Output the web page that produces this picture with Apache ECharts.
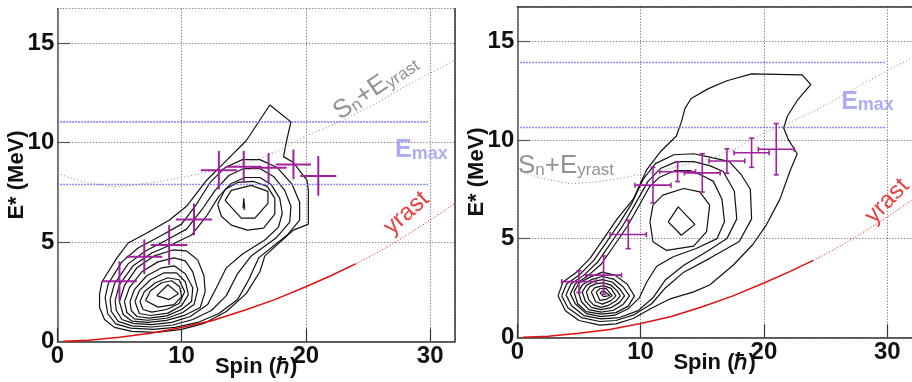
<!DOCTYPE html>
<html>
<head>
<meta charset="utf-8">
<script src="https://cdn.jsdelivr.net/npm/echarts@6/dist/echarts.min.js"></script>
<style>
    html, body {margin: 0; padding: 0; background: #fff;}
    #chart {width: 912px; height: 382px;}
</style>
</head>
<body>
<div id="chart"></div>
<script>
// values (spin in hbar, E* in MeV)

const crossSpin = [5, 7, 9, 11, 13, 15, 17, 19, 21];
const crossSpinErr = [1.4, 1.45, 1.47, 1.46, 1.46, 1.45, 1.45, 1.42, 1.45];
const leftCrossE = [3.03, 4.26, 4.85, 6.14, 8.62, 8.79, 8.74, 8.91, 8.33];
const leftCrossErr = [1.0, 0.87, 1.0, 0.8, 0.97, 0.8, 0.74, 0.75, 1.0];
const rightCrossE = [2.82, 3.15, 5.21, 7.71, 8.39, 8.33, 8.93, 9.35, 9.53];
const rightCrossErr = [0.55, 0.97, 0.72, 0.9, 0.5, 0.97, 0.62, 0.74, 1.3];

const yrastSpin = [0.5, 2.5, 5, 7.5, 10, 12.5, 15, 17.5, 20, 22, 24];
const yrastE = [0, 0.05, 0.2, 0.4, 0.7, 1.05, 1.55, 2.1, 2.75, 3.3, 3.9];
const yrastExtSpin = [24, 26, 28, 30, 32];
const yrastExtE = [3.9, 4.55, 5.3, 6.1, 6.95];

const snSpin = [0, 2, 4.3, 6, 8, 10, 12, 14, 16, 18, 20, 22, 24, 26, 28, 30, 32];
const snE = [8.45, 8.05, 7.78, 7.85, 8.02, 8.25, 8.5, 8.8, 9.12, 9.65, 10.35, 10.85, 11.45, 12.1, 12.85, 13.5, 14.16];

const emaxSpan = [0, 29.8];
const leftEmax = [11.05, 7.9];
const rightEmax = [13.92, 10.63];

// contour levels, outermost first, each a closed polygon [spin, E]
const leftContours = [
    [[3.4,2.4],[3.6,3.0],[4.8,4.2],[5.7,4.95],[7.2,5.45],[9.0,6.1],[10.4,6.8],[12.0,8.1],[13.6,9.1],[15.2,10.1],[17.1,11.9],[18.8,11.05],[18.45,10.1],[18.2,9.3],[19.0,9.0],[20.1,8.1],[20.2,7.6],[20.2,5.9],[19.0,5.6],[16.7,4.3],[16.3,3.5],[15.2,2.4],[13.6,1.5],[11.8,0.9],[10.0,0.6],[8.0,0.45],[6.0,0.5],[4.6,0.7],[3.8,1.1],[3.4,1.7],[3.4,2.4]],
    [[3.85,2.2],[4.1,2.9],[5.2,4.0],[6.5,4.7],[8.3,5.3],[10.0,5.9],[11.2,6.9],[12.3,8.0],[13.5,8.75],[14.9,9.15],[16.3,9.15],[17.7,8.75],[18.9,7.9],[19.5,7.0],[19.5,6.1],[18.5,5.35],[16.2,4.2],[15.4,3.1],[14.5,2.1],[13.0,1.4],[11.3,0.95],[9.5,0.7],[7.7,0.6],[5.9,0.66],[4.7,0.88],[4.05,1.4],[3.85,2.2]],
    [[4.25,2.1],[4.6,2.9],[5.7,3.9],[7.1,4.55],[8.8,5.1],[10.4,5.65],[11.6,6.6],[12.7,7.6],[13.8,8.35],[15.0,8.7],[16.3,8.7],[17.4,8.3],[18.3,7.6],[18.8,6.8],[18.7,6.0],[17.6,5.2],[15.6,4.3],[14.5,3.4],[13.6,2.3],[12.4,1.55],[10.9,1.1],[9.3,0.82],[7.6,0.72],[6.0,0.78],[4.9,1.0],[4.35,1.5],[4.25,2.1]],
    [[4.65,2.05],[5.0,2.85],[6.1,3.8],[7.6,4.45],[9.3,4.9],[10.8,5.35],[12.0,6.3],[13.0,7.3],[14.0,7.95],[15.1,8.25],[16.3,8.25],[17.2,7.9],[17.9,7.2],[18.1,6.45],[17.8,5.75],[16.7,5.1],[14.9,4.4],[13.6,3.7],[12.8,2.7],[12.1,1.85],[10.7,1.25],[9.2,0.95],[7.6,0.84],[6.1,0.9],[5.2,1.1],[4.75,1.55],[4.65,2.05]],
    // upper lobe
    [[12.9,6.9],[13.5,7.65],[14.5,8.0],[15.8,8.05],[16.9,7.8],[17.5,7.2],[17.5,6.4],[16.6,5.7],[15.3,5.6],[14.0,5.85],[13.2,6.3],[12.9,6.9]],
    [[13.5,7.1],[14.0,7.6],[15.6,7.85],[16.95,7.55],[16.95,6.95],[15.9,6.2],[14.8,6.2],[13.5,7.1]],
    [[14.95,6.7],[15.0,7.2],[15.08,6.7],[15.0,6.62],[14.95,6.7]],
    // lower lobe
    [[5.0,2.0],[5.4,2.8],[6.4,3.7],[7.8,4.3],[9.3,4.6],[10.4,4.55],[11.3,4.1],[11.8,3.3],[11.9,2.5],[11.5,1.7],[10.3,1.32],[8.8,1.05],[7.3,0.95],[6.0,1.02],[5.3,1.35],[5.0,2.0]],
    [[5.4,2.0],[5.8,2.7],[6.8,3.5],[8.1,4.0],[9.4,4.2],[10.3,4.05],[10.9,3.5],[11.3,2.6],[11.0,1.85],[10.1,1.45],[8.8,1.16],[7.3,1.06],[6.2,1.13],[5.6,1.45],[5.4,2.0]],
    [[5.85,2.0],[6.2,2.6],[7.2,3.3],[8.4,3.7],[9.4,3.8],[10.3,3.4],[10.9,2.7],[10.8,2.0],[10.0,1.6],[8.8,1.28],[7.4,1.17],[6.4,1.25],[5.95,1.55],[5.85,2.0]],
    [[6.25,2.0],[6.6,2.55],[7.5,3.1],[8.6,3.45],[9.6,3.45],[10.3,3.0],[10.55,2.35],[10.0,1.8],[8.9,1.42],[7.5,1.3],[6.6,1.4],[6.25,2.0]],
    [[6.65,2.0],[7.0,2.5],[7.9,2.95],[8.9,3.2],[9.8,3.1],[10.25,2.5],[9.8,1.9],[8.8,1.6],[7.6,1.47],[6.9,1.6],[6.65,2.0]],
    [[7.1,2.05],[7.5,2.55],[8.4,2.95],[9.2,3.05],[9.85,2.75],[10.0,2.25],[9.4,1.85],[8.1,1.72],[7.1,2.05]],
    [[8.0,2.3],[8.9,2.85],[9.75,2.4],[9.0,2.1],[8.0,2.3]]
];

const rightContours = [
    [[3.3,2.1],[3.7,2.8],[4.8,3.3],[5.9,4.0],[7.0,5.0],[8.1,6.0],[9.4,7.0],[10.5,8.5],[11.6,9.4],[12.9,10.2],[13.3,10.9],[13.6,11.6],[14.1,12.1],[15.5,12.6],[17.0,13.0],[19.0,13.35],[23.1,13.3],[23.8,12.8],[22.7,12.0],[21.9,11.2],[21.6,10.6],[22.0,10.0],[22.7,9.3],[22.1,8.4],[21.3,7.0],[20.2,5.7],[19.1,4.7],[17.5,3.65],[15.6,2.65],[14.3,2.3],[12.4,1.95],[10.8,1.45],[9.4,0.95],[8.0,0.68],[6.7,0.62],[5.0,0.85],[3.9,1.35],[3.3,2.1]],
    [[3.6,2.1],[4.0,2.7],[5.1,3.2],[6.2,3.9],[7.2,4.8],[8.3,5.8],[9.3,6.8],[10.2,8.0],[11.2,8.8],[12.7,9.25],[14.3,9.3],[15.8,9.1],[17.2,8.9],[18.2,8.2],[18.9,7.5],[19.0,6.0],[18.0,4.85],[15.6,4.0],[13.5,3.3],[12.0,2.5],[10.9,1.7],[9.5,1.15],[8.0,0.85],[6.7,0.8],[5.2,1.0],[4.1,1.5],[3.6,2.1]],
    [[3.95,2.15],[4.35,2.7],[5.4,3.15],[6.5,3.8],[7.5,4.7],[8.6,5.7],[9.6,6.8],[10.6,7.9],[11.6,8.55],[12.9,8.9],[14.3,8.9],[15.6,8.7],[16.7,8.4],[17.6,7.4],[17.8,6.0],[17.0,5.0],[15.35,4.33],[13.5,3.65],[12.0,2.9],[11.0,2.0],[9.8,1.35],[8.3,1.0],[6.8,0.93],[5.4,1.1],[4.4,1.6],[3.95,2.15]],
    [[4.3,2.2],[4.7,2.7],[5.7,3.1],[6.8,3.7],[7.8,4.6],[8.9,5.6],[9.9,6.7],[10.7,7.6],[11.5,8.1],[12.8,8.45],[14.0,8.45],[15.0,8.2],[15.9,7.9],[16.6,7.0],[16.8,5.85],[16.2,5.0],[14.5,4.5],[12.65,4.08],[11.3,3.6],[10.5,2.8],[9.9,2.0],[9.0,1.45],[7.9,1.12],[6.8,1.05],[5.6,1.2],[4.7,1.7],[4.3,2.2]],
    // upper lobe
    [[10.76,5.85],[11.0,4.84],[12.1,4.4],[14.3,4.62],[15.35,5.35],[15.6,6.7],[14.8,7.37],[13.5,7.54],[11.8,7.2],[11.0,6.7],[10.76,5.85]],
    [[12.24,5.85],[13.05,6.61],[14.4,5.72],[13.3,5.17],[12.24,5.85]],
    // lower lobe
    [[4.6,2.3],[5.0,2.75],[5.9,3.05],[6.9,3.3],[7.9,3.15],[8.9,2.7],[9.5,2.1],[9.0,1.58],[8.0,1.25],[6.8,1.17],[5.6,1.3],[4.9,1.7],[4.6,2.3]],
    [[4.95,2.3],[5.3,2.68],[6.0,2.92],[6.9,3.08],[7.8,2.95],[8.6,2.55],[9.1,2.1],[8.6,1.68],[7.8,1.37],[6.8,1.28],[5.8,1.4],[5.2,1.8],[4.95,2.3]],
    [[5.27,2.3],[5.6,2.63],[6.2,2.83],[6.9,2.92],[7.7,2.8],[8.3,2.45],[8.7,2.1],[8.3,1.77],[7.6,1.5],[6.8,1.4],[6.0,1.52],[5.5,1.85],[5.27,2.3]],
    [[5.6,2.3],[5.9,2.58],[6.4,2.72],[7.0,2.76],[7.6,2.64],[8.1,2.35],[8.35,2.1],[8.0,1.84],[7.4,1.62],[6.8,1.52],[6.2,1.63],[5.8,1.9],[5.6,2.3]],
    [[6.0,2.3],[6.3,2.52],[7.0,2.62],[7.6,2.48],[8.0,2.1],[7.6,1.86],[6.9,1.68],[6.35,1.8],[6.0,2.3]],
    [[6.4,2.3],[6.7,2.46],[7.2,2.48],[7.7,2.1],[7.2,1.92],[6.7,1.87],[6.4,2.3]],
    [[6.7,2.25],[7.0,2.36],[7.5,2.12],[7.0,2.06],[6.7,2.25]]
];

const purple = '#a1219d';
const font = '"Liberation Sans", Arial, sans-serif';

function pairs(xs, ys) {
    return xs.map((x, i) => [x, ys[i]]);
}

function lineSeries(gi, data, color, width, type, z) {
    return {
        type: 'line', xAxisIndex: gi, yAxisIndex: gi,
        data: data, showSymbol: false, symbol: 'none', smooth: false,
        silent: true, animation: false, z: z || 2,
        lineStyle: {color: color, width: width, type: type || 'solid'}
    };
}

function crossSeries(gi, eVals, eErr, caps, width) {
    const rows = crossSpin.map((s, i) => [s, eVals[i], crossSpinErr[i], eErr[i]]);
    return {
        type: 'custom', xAxisIndex: gi, yAxisIndex: gi, z: 10, silent: true, animation: false,
        data: rows,
        renderItem: function (params, api) {
            const x = api.value(0), y = api.value(1), ex = api.value(2), ey = api.value(3);
            const l = api.coord([x - ex, y]), r = api.coord([x + ex, y]);
            const b = api.coord([x, y - ey]), t = api.coord([x, y + ey]);
            const st = {stroke: purple, lineWidth: width};
            const kids = [
                {type: 'line', shape: {x1: l[0], y1: l[1], x2: r[0], y2: r[1]}, style: st},
                {type: 'line', shape: {x1: b[0], y1: b[1], x2: t[0], y2: t[1]}, style: st}
            ];
            if (caps) {
                const c = 2.5;
                kids.push({type: 'line', shape: {x1: l[0], y1: l[1] - c, x2: l[0], y2: l[1] + c}, style: st});
                kids.push({type: 'line', shape: {x1: r[0], y1: r[1] - c, x2: r[0], y2: r[1] + c}, style: st});
                kids.push({type: 'line', shape: {x1: b[0] - c, y1: b[1], x2: b[0] + c, y2: b[1]}, style: st});
                kids.push({type: 'line', shape: {x1: t[0] - c, y1: t[1], x2: t[0] + c, y2: t[1]}, style: st});
            }
            return {type: 'group', children: kids};
        }
    };
}

function textSeries(gi, at, text, rotate, rich) {
    return {
        type: 'scatter', xAxisIndex: gi, yAxisIndex: gi, silent: true, animation: false, z: 12,
        symbolSize: 1, itemStyle: {color: 'rgba(0,0,0,0)'},
        data: [at],
        label: {show: true, position: 'inside', formatter: text, rotate: rotate, rich: rich}
    };
}

const snRich = {
    m: {fontFamily: font, fontSize: 26, color: '#777', lineHeight: 36, verticalAlign: 'bottom'},
    s: {fontFamily: font, fontSize: 17, color: '#777', lineHeight: 17, verticalAlign: 'bottom'}
};
const emaxRich = {
    m: {fontFamily: font, fontSize: 25, fontWeight: 'bold', color: '#9999f5', lineHeight: 34, verticalAlign: 'bottom'},
    s: {fontFamily: font, fontSize: 18, fontWeight: 'bold', color: '#9999f5', lineHeight: 18, verticalAlign: 'bottom'}
};
const yrastRich = {
    m: {fontFamily: font, fontSize: 24, color: '#e01010'}
};

function xAxisFor(gi) {
    return {
        type: 'value', gridIndex: gi, min: 0, max: 32, interval: 10,
        name: 'Spin (\u210F)', nameLocation: 'middle', nameGap: 15, nameMoveOverlap: false,
        nameTextStyle: {fontFamily: font, fontSize: 22, fontWeight: 'bold', color: '#111'},
        axisLine: {show: true, onZero: false, lineStyle: {color: '#333', width: 1.5}},
        axisTick: {show: true, inside: true, length: 13, lineStyle: {color: '#333', width: 1.2}},
        axisLabel: {fontFamily: font, fontSize: 24, fontWeight: 'bold', color: '#111', margin: 3, showMaxLabel: false},
        splitLine: {show: true, lineStyle: {color: '#555', width: 1, type: [1, 2]}}
    };
}

function yAxisFor(gi) {
    return {
        type: 'value', gridIndex: gi, min: 0, max: 16.75, interval: 5,
        name: 'E* (MeV)', nameLocation: 'middle', nameGap: 29, nameMoveOverlap: false,
        nameTextStyle: {fontFamily: font, fontSize: 22, fontWeight: 'bold', color: '#111'},
        axisLine: {show: true, onZero: false, lineStyle: {color: '#555', width: 1.5}},
        axisTick: {show: true, inside: true, length: 13, lineStyle: {color: '#555', width: 1.2}},
        axisLabel: {fontFamily: font, fontSize: 24, fontWeight: 'bold', color: '#111', margin: 3, showMaxLabel: false},
        splitLine: {show: true, lineStyle: {color: '#555', width: 1, type: [1, 2]}}
    };
}

// bare frame lines (left panel right edge, right panel top edge)
function frameAxis(gi, pos, isX) {
    return {
        type: 'value', gridIndex: gi, position: pos, min: 0, max: isX ? 32 : 16.75,
        axisLine: {show: true, onZero: false, lineStyle: {color: '#333', width: 1.5}},
        axisTick: {show: false}, axisLabel: {show: false}, splitLine: {show: false}
    };
}

function panelSeries(gi, contours, emax, crossE, crossErr, caps, crossWidth) {
    const out = [];
    contours.forEach(c => out.push(lineSeries(gi, c, '#111', 1.2, 'solid', 3)));
    out.push(lineSeries(gi, pairs(yrastSpin, yrastE), '#e01010', 1.5, 'solid', 4));
    out.push(lineSeries(gi, pairs(yrastExtSpin, yrastExtE), '#e01010', 1, [1, 2], 4));
    out.push(lineSeries(gi, pairs(snSpin, snE), '#888', 1, [1, 2.5], 4));
    emax.forEach(e => out.push(lineSeries(gi, [[emaxSpan[0], e], [emaxSpan[1], e]], '#6a6aff', 1.6, [1.5, 1.5], 4)));
    out.push(crossSeries(gi, crossE, crossErr, caps, crossWidth));
    return out;
}

const series = [].concat(
    panelSeries(0, leftContours, leftEmax, leftCrossE, leftCrossErr, false, 2),
    panelSeries(1, rightContours, rightEmax, rightCrossE, rightCrossErr, true, 1.6),
    [
        textSeries(0, [25.4, 13.0], '{m|S}{s|n}{m|+E}{s|yrast}', 34, snRich),
        textSeries(0, [29.3, 9.85], '{m|E}{s|max}', 0, emaxRich),
        textSeries(0, [28.1, 6.45], '{m|yrast}', 42, yrastRich),
        textSeries(1, [3.95, 8.95], '{m|S}{s|n}{m|+E}{s|yrast}', 0, snRich),
        textSeries(1, [28.4, 12.15], '{m|E}{s|max}', 0, emaxRich),
        textSeries(1, [30.0, 6.9], '{m|yrast}', 46, yrastRich)
    ]
);

const myChart = echarts.init(document.getElementById('chart'), null, {renderer: 'canvas'});
myChart.setOption({
    animation: false,
    backgroundColor: '#fff',
    grid: [
        {left: 57.3, top: 8.7, width: 397.7, height: 332.6, outerBoundsMode: 'none', containLabel: false},
        {left: 517.3, top: 6.7, width: 394.6, height: 330.6, outerBoundsMode: 'none', containLabel: false}
    ],
    xAxis: [xAxisFor(0), xAxisFor(1), frameAxis(1, 'top', true)],
    yAxis: [yAxisFor(0), yAxisFor(1), frameAxis(0, 'right', false)],
    series: series
});
</script>
</body>
</html>
